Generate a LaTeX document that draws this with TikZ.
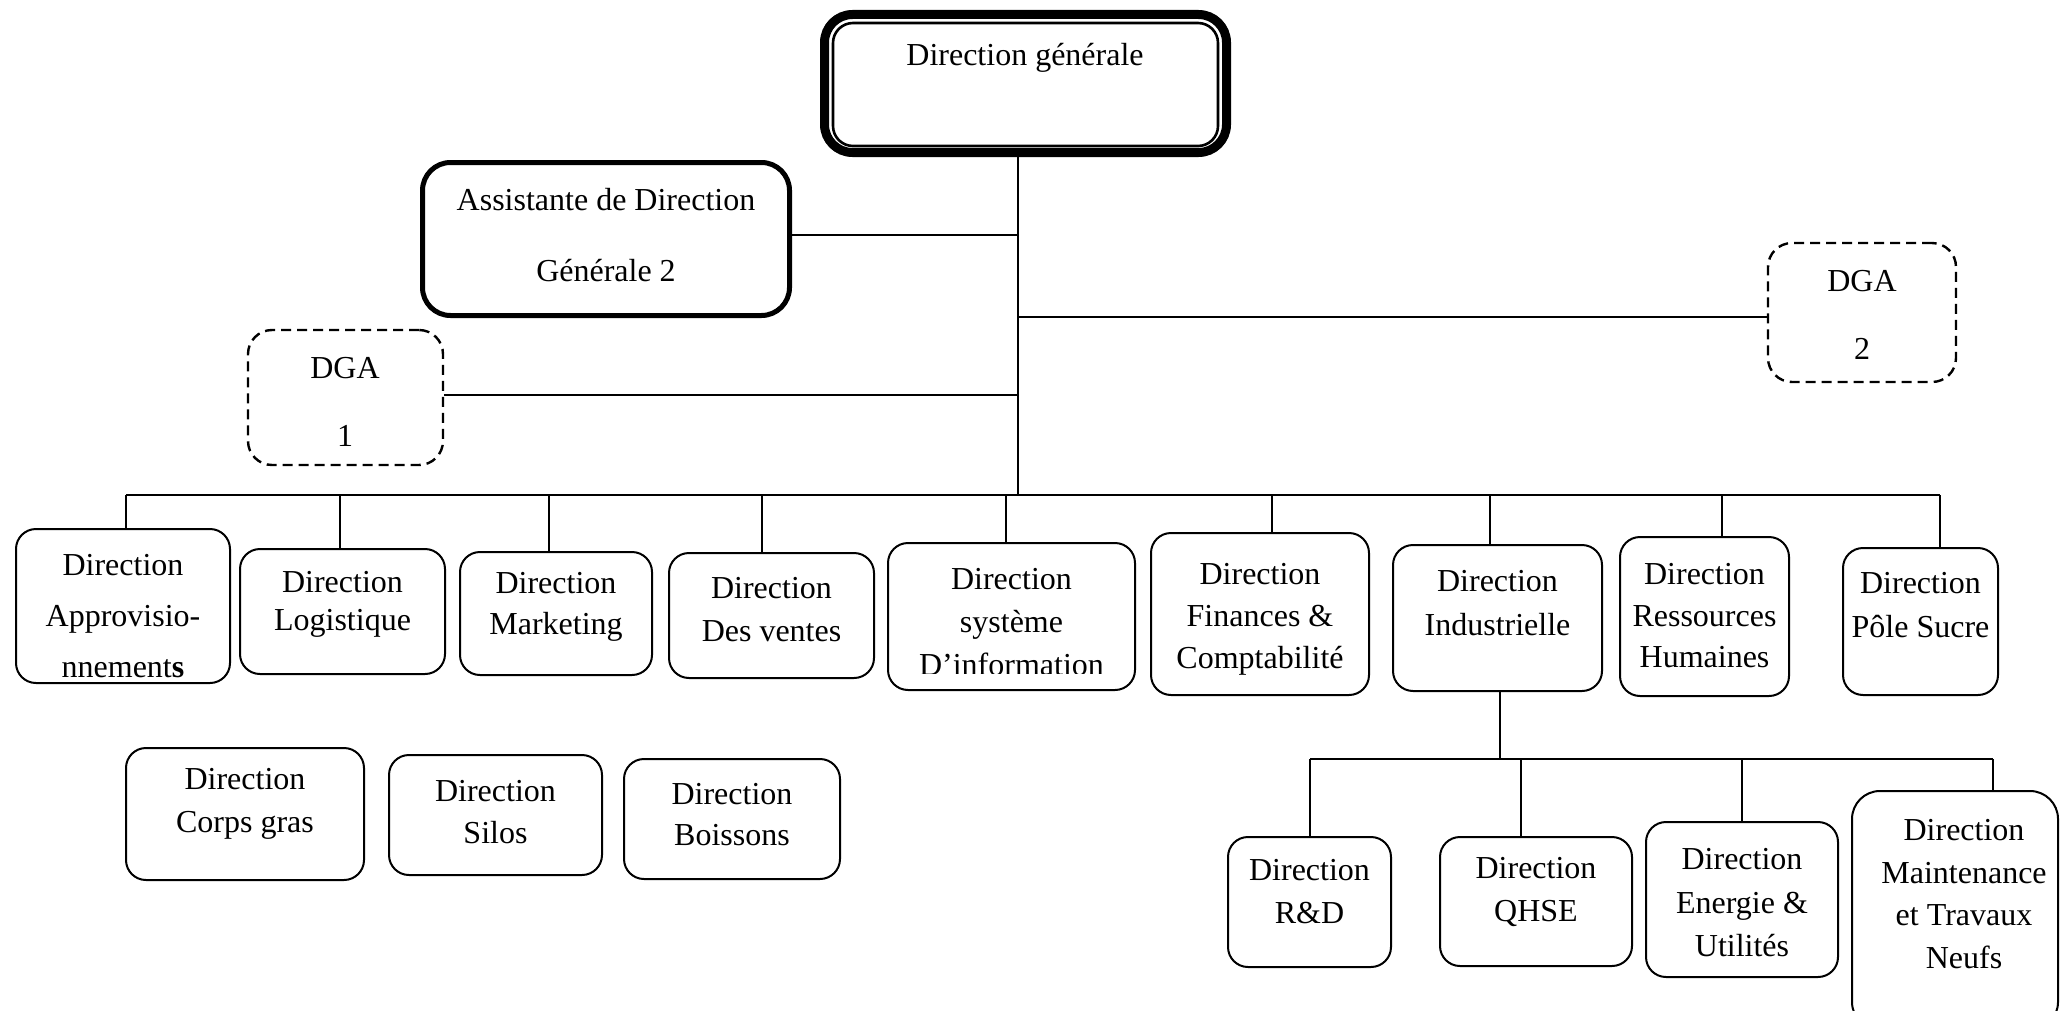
\documentclass[tikz,border=0pt]{standalone}
\usepackage{fontspec}
\setmainfont{Liberation Serif}
\begin{document}
\begin{tikzpicture}[x=0.5pt,y=-0.5pt,
  box/.style={draw, line width=1pt, rounded corners=10pt, inner sep=0pt},
  dgabox/.style={draw, line width=1.2pt, rounded corners=12pt, dash pattern=on 5pt off 3pt, inner sep=0pt},
  conn/.style={line width=0.9pt},
  txt/.style={align=center, inner sep=0pt},
  ls/.style={font=\fontsize{16}{#1}\selectfont}]
\useasboundingbox (0,0) rectangle (2060,1011);
\clip (0,0) rectangle (2060,1011);

% Direction generale
\node[draw, line width=4.5pt, rounded corners=14pt, minimum width=201pt, minimum height=69pt, inner sep=0pt] (dg) at (1025.5,83.5) {};
\node[draw, line width=1.3pt, rounded corners=10pt, minimum width=192.5pt, minimum height=61.5pt, inner sep=0pt] (dgi) at (1025.5,84.5) {};
\node[txt, ls=21] (dgt) at (1025,58) {Direction générale};

% Assistante
\node[box, line width=2.5pt, rounded corners=14pt, minimum width=183.5pt, minimum height=76.5pt] (as) at (606,239) {};
\node[txt, ls=35.5] (ast) at (606,235) {Assistante de Direction\\Générale 2};

% DGA
\node[dgabox, minimum width=94pt, minimum height=69.5pt] (d2) at (1862,312.5) {};
\node[txt, ls=34] (d2t) at (1862,315) {DGA\\2};
\node[dgabox, minimum width=97.5pt, minimum height=67.5pt] (d1) at (345.5,397.5) {};
\node[txt, ls=34] (d1t) at (345,402) {DGA\\1};

% trunk coordinates
\coordinate (t) at (1018,495);
\coordinate (ja) at (1018,235);
\coordinate (j2) at (1018,317);
\coordinate (j1) at (1018,395);
\draw[conn] (dg.south -| t) -- (t);
\draw[conn] (ja) -- (ja -| as.east);
\draw[conn] (j2) -- (j2 -| d2.west);
\draw[conn] (j1) -- (j1 -| d1.east);

% level 1 boxes
\node[box, minimum width=107pt, minimum height=77pt] (ap) at (123,606) {};
\node[txt, ls=25.5] (apt) at (123,616) {Direction\\Approvisio-\\nnement\textbf{s}};
\node[box, minimum width=102.5pt, minimum height=62.5pt] (lo) at (342.5,611.5) {};
\node[txt, ls=19] (lot) at (342.5,604) {Direction\\Logistique};
\node[box, minimum width=96pt, minimum height=61.5pt] (ma) at (556,613.5) {};
\node[txt, ls=20.5] (mat) at (556,607) {Direction\\Marketing};
\node[box, minimum width=102.5pt, minimum height=62.5pt] (ve) at (771.5,615.5) {};
\node[txt, ls=21.5] (vet) at (771.5,610) {Direction\\Des ventes};
\node[box, minimum width=123.5pt, minimum height=73.5pt] (si) at (1011.5,616.5) {};
\begin{scope}
\clip (888,543) rectangle (1135,673);
\node[txt, ls=21.5] (sit) at (1011.5,622) {Direction\\système\\D’information};
\end{scope}
\node[box, minimum width=109pt, minimum height=81pt] (fi) at (1260,614) {};
\node[txt, ls=21] (fit) at (1260,619) {Direction\\Finances \&\\Comptabilité};
\node[box, minimum width=104.5pt, minimum height=73pt] (in) at (1497.5,618) {};
\node[txt, ls=22] (int) at (1497.5,603) {Direction\\Industrielle};
\node[box, minimum width=84.5pt, minimum height=79.5pt] (rh) at (1704.5,616.5) {};
\node[txt, ls=20.75] (rht) at (1704.5,616) {Direction\\Ressources\\Humaines};
\node[box, minimum width=77.5pt, minimum height=73.5pt] (ps) at (1920.5,621.5) {};
\node[txt, ls=22] (pst) at (1920.5,605) {Direction\\Pôle Sucre};

% bus level 1
\coordinate (b1) at (126,495);
\coordinate (b2) at (340,495);
\coordinate (b3) at (549,495);
\coordinate (b4) at (762,495);
\coordinate (b5) at (1006,495);
\coordinate (b6) at (1272,495);
\coordinate (b7) at (1490,495);
\coordinate (b8) at (1722,495);
\coordinate (b9) at (1940,495);
\draw[conn] (b1) -- (b9);
\draw[conn] (b1) -- (b1 |- ap.north);
\draw[conn] (b2) -- (b2 |- lo.north);
\draw[conn] (b3) -- (b3 |- ma.north);
\draw[conn] (b4) -- (b4 |- ve.north);
\draw[conn] (b5) -- (b5 |- si.north);
\draw[conn] (b6) -- (b6 |- fi.north);
\draw[conn] (b7) -- (b7 |- in.north);
\draw[conn] (b8) -- (b8 |- rh.north);
\draw[conn] (b9) -- (b9 |- ps.north);

% sub level
\node[box, minimum width=81.5pt, minimum height=65pt] (rd) at (1309.5,902) {};
\node[txt, ls=21.5] (rdt) at (1309.5,892) {Direction\\R\&D};
\node[box, minimum width=96pt, minimum height=64.5pt] (qh) at (1536,901.5) {};
\node[txt, ls=21.5] (qht) at (1536,892) {Direction\\QHSE};
\node[box, minimum width=96pt, minimum height=77.5pt] (en) at (1742,899.5) {};
\node[txt, ls=21.75] (ent) at (1742,903) {Direction\\Energie \&\\Utilités};
\node[box, rounded corners=14pt, minimum width=103pt, minimum height=119.5pt] (mt) at (1955,910.5) {};
\node[txt, ls=21.35] (mtt) at (1964,894) {Direction\\Maintenance\\et Travaux\\Neufs};

\coordinate (s0) at (1500,759);
\coordinate (s1) at (1310,759);
\coordinate (s2) at (1521,759);
\coordinate (s3) at (1742,759);
\coordinate (s4) at (1993,759);
\draw[conn] (s0 |- in.south) -- (s0);
\draw[conn] (s1) -- (s4);
\draw[conn] (s1) -- (s1 |- rd.north);
\draw[conn] (s2) -- (s2 |- qh.north);
\draw[conn] (s3) -- (s3 |- en.north);
\draw[conn] (s4) -- (s4 |- mt.north);

% bottom-left boxes
\node[box, minimum width=119pt, minimum height=66pt] (cg) at (245,814) {};
\node[txt, ls=21.5] (cgt) at (245,804) {Direction\\Corps gras};
\node[box, minimum width=106.5pt, minimum height=60pt] (sl) at (495.5,815) {};
\node[txt, ls=21] (slt) at (495.5,812) {Direction\\Silos};
\node[box, minimum width=108pt, minimum height=60pt] (bo) at (732,819) {};
\node[txt, ls=20.5] (bot) at (732,815) {Direction\\Boissons};
\end{tikzpicture}
\end{document}
